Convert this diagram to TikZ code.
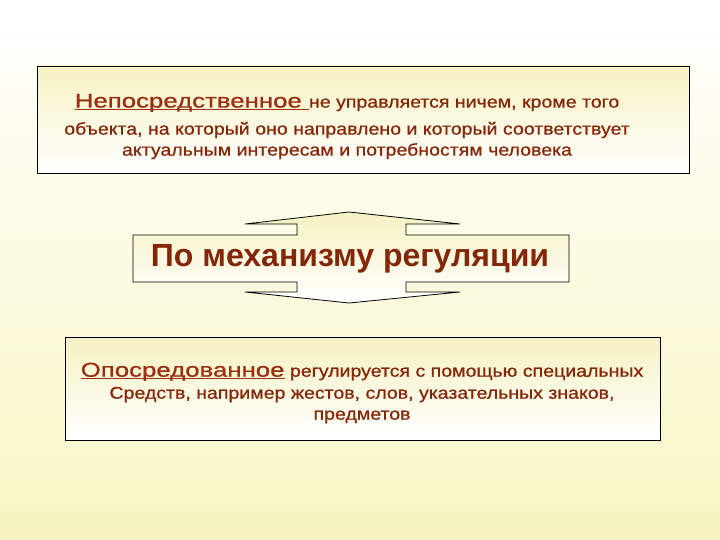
\documentclass[tikz,border=0pt]{standalone}
\usepackage{fontspec}
\setmainfont{Liberation Sans}
\newfontfamily\widefont[FakeStretch=1.15, FakeBold=0.8]{Liberation Sans}
\newfontfamily\headfont[FakeStretch=1.29, FakeBold=0.8]{Liberation Sans}
\usepackage{xcolor}
\usetikzlibrary{calc}
\definecolor{bgtop}{HTML}{FFFFFF}
\definecolor{bgbot}{HTML}{F8F5C2}
\definecolor{boxtop}{HTML}{F6F2C2}
\definecolor{brown}{HTML}{862608}
\definecolor{headbrown}{HTML}{9A3010}
\tikzset{
  panel/.style={draw=black, line width=0.8bp, top color=boxtop, bottom color=white},
  txt/.style={text=brown, align=center, inner sep=0pt,
    font=\widefont\fontsize{17bp}{20bp}\selectfont},
  bigtxt/.style={text=brown, inner sep=0pt,
    font=\bfseries\fontsize{32bp}{34bp}\selectfont}
}
% underlined lead word, rule close to the baseline
\newcommand{\Head}[1]{{\color{headbrown}\headfont\fontsize{20bp}{22bp}\selectfont%
	\setbox0\hbox{#1}\rlap{\rule[-2.5bp]{\wd0}{1.3bp}}\box0}}

\begin{document}
\begin{tikzpicture}[x=1bp, y=-1bp]
	% background
	\shade[top color=bgtop, bottom color=bgbot] (0,0) rectangle (720,540);
	\useasboundingbox (0,0) rectangle (720,540);

	\coordinate (TL) at (37,66);
	\coordinate (TR) at (689,173);
	\coordinate (BL) at (65,337);
	\coordinate (BR) at (660,440);

	% upper and lower boxes
	\path[panel] (TL) rectangle (TR);
	\path[panel] (BL) rectangle (BR);

	% double arrow round the middle label
	\def\sl{297}
	\def\sr{406}
	\path[panel] (133,235) -- (\sl,235) -- (\sl,224) -- (245,224) -- (349,212)
		-- (460,224) -- (\sr,224) -- (\sr,235) -- (569,235) -- (569,282)
		-- (\sr,282) -- (\sr,292) -- (460,292) -- (349,303) -- (245,292)
		-- (\sl,292) -- (\sl,282) -- (133,282) -- cycle;

	\node[txt] (upper) at (347,126.5)
		{\Head{Непосредственное }не управляется ничем, кроме того\\[7bp]
		 объекта, на который оно направлено и который соответствует\\[1bp]
		 актуальным интересам и потребностям человека};

	\node[bigtxt] (mech) at (350,259) {По механизму регуляции};

	\node[txt] (lower) at (362,393)
		{\Head{Опосредованное} регулируется с помощью специальных\\[2bp]
		 Средств, например жестов, слов, указательных знаков,\\[1bp]
		 предметов};
\end{tikzpicture}
\end{document}
